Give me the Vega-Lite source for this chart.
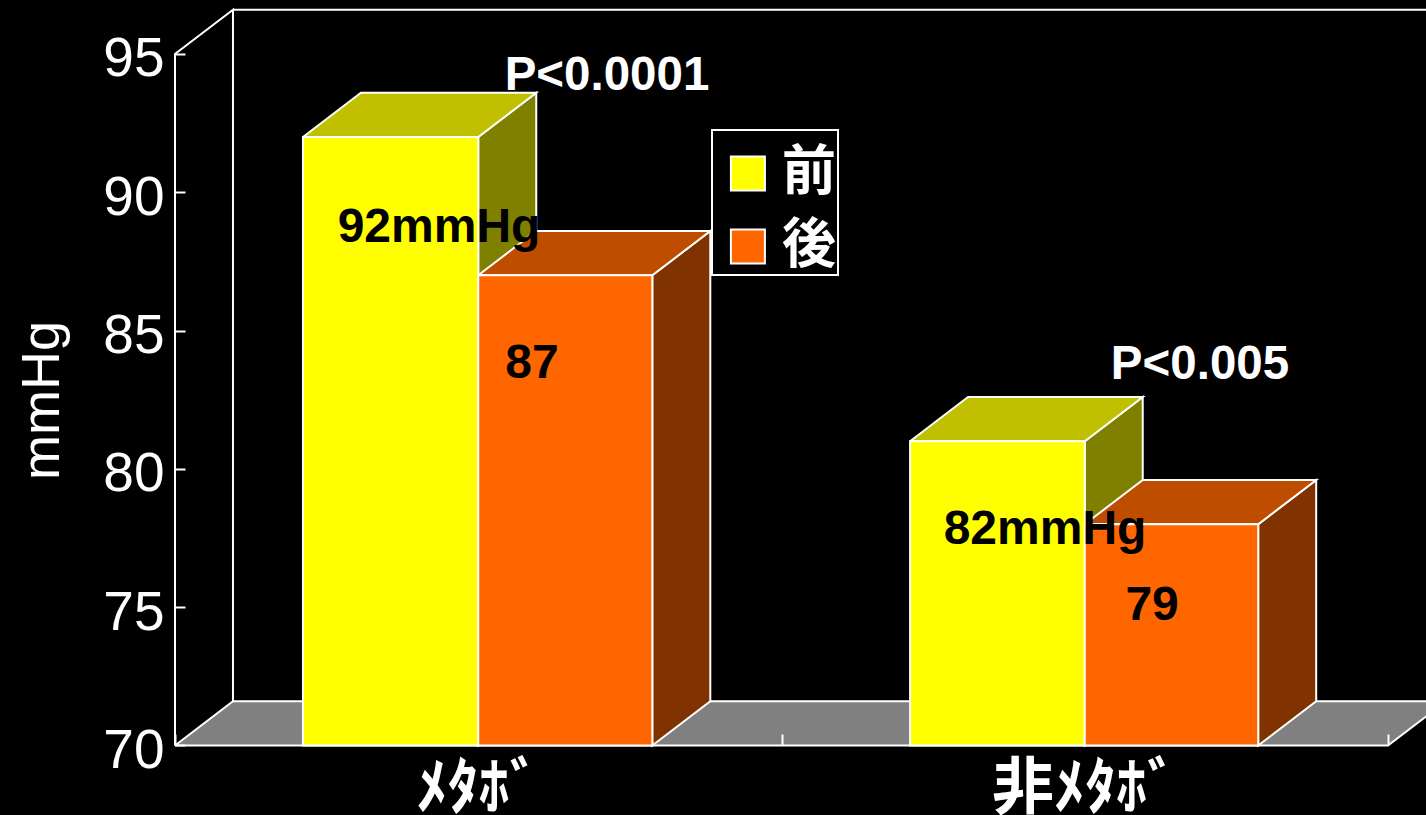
{"$schema":"https://vega.github.io/schema/vega-lite/v6.json","width":1426,"height":815,"autosize":"none","padding":0,"background":"#000000","config":{"view":{"stroke":null},"font":"Liberation Sans","legend":{"strokeWidth":2}},
"datasets":{"frame":[
{"part":"wall","step":1,"x":0,"y":70},{"part":"wall","step":2,"x":0,"y":95},{"part":"wall","step":3,"x":0.0956,"y":96.6},{"part":"wall","step":4,"x":0.0956,"y":71.6},
{"part":"top","step":1,"x":0.0956,"y":96.6},{"part":"top","step":2,"x":2.2,"y":96.6}],
"floor":[{"step":1,"x":0,"y":70},{"step":2,"x":0.0956,"y":71.6},{"step":3,"x":2.0956,"y":71.6},{"step":4,"x":2,"y":70},{"step":5,"x":0,"y":70}],
"barNotes":[{"text":"92mmHg","x":0.4353,"y":88.71},{"text":"87","x":0.5886,"y":83.8},{"text":"82mmHg","x":1.4345,"y":77.8},{"text":"79","x":1.611,"y":75.06}],
"pNotes":[{"text":"P<0.0001","x":0.7123,"y":94.21},{"text":"P<0.005","x":1.69,"y":83.76}]},
"data":{"values":[{"group":"ﾒﾀﾎﾞ","when":"前","value":92},{"group":"ﾒﾀﾎﾞ","when":"後","value":87},{"group":"非ﾒﾀﾎﾞ","when":"前","value":81},{"group":"非ﾒﾀﾎﾞ","when":"後","value":78}]},
"transform":[{"calculate":"datum.group==='ﾒﾀﾎﾞ'?0:1","as":"g"},{"calculate":"datum.g+(datum.when==='前'?(datum.g?0.212:0.211):0.5)","as":"x0"},{"calculate":"datum.g+(datum.when==='前'?0.5:(datum.g?0.786:0.787))","as":"x1"}],
"layer":[
{"data":{"name":"floor"},"mark":{"type":"line","fill":"#808080","stroke":"#ffffff","strokeWidth":2,"clip":true},
"encoding":{"order":{"field":"step"},
"x":{"field":"x","type":"quantitative","scale":{"domain":[-0.28854,2.06265],"nice":false,"zero":false},
"axis":{"title":null,"values":[0,1,2],"grid":false,"domain":false,"orient":"bottom","offset":-70,"tickColor":"#ffffff","tickWidth":2,"tickSize":-11,"labelColor":"#ffffff","labelFont":"Noto Sans CJK JP","labelFontWeight":"bold","labelFontSize":62,"labelPadding":25,"labelOffset":303,"labelLimit":500,"labelBound":false,"labelFlush":false,"labelOverlap":false,"labelExpr":"datum.value===0?'ﾒﾀﾎﾞ':(datum.value===1?'非ﾒﾀﾎﾞ':'')","zindex":1}},
"y":{"field":"y","type":"quantitative","scale":{"domain":[67.487,96.952],"nice":false,"zero":false},
"axis":{"title":"mmHg","values":[70,75,80,85,90,95],"grid":false,"domain":false,"orient":"left","offset":-175,"tickColor":"#ffffff","tickWidth":2,"tickSize":-10,"labelColor":"#ffffff","labelFont":"Liberation Sans","labelFontSize":55,"labelPadding":21,"labelOffset":5,"labelBound":false,"labelFlush":false,"labelOverlap":false,"titleColor":"#ffffff","titleFont":"Liberation Sans","titleFontWeight":"normal","titleFontSize":54,"titleAngle":270,"titleAlign":"center","titleBaseline":"middle","titleX":-133,"titleY":400,"zindex":1}}}},
{"data":{"name":"frame"},"mark":{"type":"line","stroke":"#ffffff","strokeWidth":2,"clip":true},"encoding":{"detail":{"field":"part"},"order":{"field":"step"},"x":{"field":"x","type":"quantitative"},"y":{"field":"y","type":"quantitative"}}},
{"transform":[{"filter":"datum.when==='前'"},{"fold":["a","b","c","d","e"],"as":["key","unused"]},{"calculate":"datum.key==='a'||datum.key==='d'||datum.key==='e'?datum.x1:datum.x1+0.0956","as":"px"},{"calculate":"datum.key==='a'||datum.key==='e'?datum.value:(datum.key==='b'?datum.value+1.6:(datum.key==='c'?71.6:70))","as":"py"}],
"mark":{"type":"line","fill":"#808000","stroke":"#ffffff","strokeWidth":2},"encoding":{"detail":{"field":"group"},"order":{"field":"key"},"x":{"field":"px","type":"quantitative"},"y":{"field":"py","type":"quantitative"}}},
{"transform":[{"filter":"datum.when==='前'"},{"fold":["a","b","c","d","e"],"as":["key","unused"]},{"calculate":"datum.key==='a'||datum.key==='e'?datum.x0:(datum.key==='b'?datum.x1:(datum.key==='c'?datum.x1+0.0956:datum.x0+0.0956))","as":"px"},{"calculate":"datum.key==='c'||datum.key==='d'?datum.value+1.6:datum.value","as":"py"}],
"mark":{"type":"line","fill":"#c0c000","stroke":"#ffffff","strokeWidth":2},"encoding":{"detail":{"field":"group"},"order":{"field":"key"},"x":{"field":"px","type":"quantitative"},"y":{"field":"py","type":"quantitative"}}},
{"transform":[{"filter":"datum.when==='後'"},{"fold":["a","b","c","d","e"],"as":["key","unused"]},{"calculate":"datum.key==='a'||datum.key==='d'||datum.key==='e'?datum.x1:datum.x1+0.0956","as":"px"},{"calculate":"datum.key==='a'||datum.key==='e'?datum.value:(datum.key==='b'?datum.value+1.6:(datum.key==='c'?71.6:70))","as":"py"}],
"mark":{"type":"line","fill":"#803300","stroke":"#ffffff","strokeWidth":2},"encoding":{"detail":{"field":"group"},"order":{"field":"key"},"x":{"field":"px","type":"quantitative"},"y":{"field":"py","type":"quantitative"}}},
{"transform":[{"filter":"datum.when==='後'"},{"fold":["a","b","c","d","e"],"as":["key","unused"]},{"calculate":"datum.key==='a'||datum.key==='e'?datum.x0:(datum.key==='b'?datum.x1:(datum.key==='c'?datum.x1+0.0956:datum.x0+0.0956))","as":"px"},{"calculate":"datum.key==='c'||datum.key==='d'?datum.value+1.6:datum.value","as":"py"}],
"mark":{"type":"line","fill":"#bf4d00","stroke":"#ffffff","strokeWidth":2},"encoding":{"detail":{"field":"group"},"order":{"field":"key"},"x":{"field":"px","type":"quantitative"},"y":{"field":"py","type":"quantitative"}}},
{"mark":{"type":"rect","stroke":"#ffffff","strokeWidth":2},"encoding":{"x":{"field":"x0","type":"quantitative"},"x2":{"field":"x1"},"y":{"field":"value","type":"quantitative"},"y2":{"datum":70},
"color":{"field":"when","type":"nominal","scale":{"domain":["前","後"],"range":["#ffff00","#ff6600"]},
"legend":{"title":" ","titleFontSize":14,"titlePadding":1,"orient":"none","legendX":712,"legendY":130,"padding":1.5,"fillColor":"#000000","strokeColor":"#ffffff","symbolType":"square","symbolSize":1156,"symbolStrokeColor":"#ffffff","symbolStrokeWidth":2,"symbolOffset":7.4,"labelColor":"#ffffff","labelFont":"Noto Sans CJK JP","labelFontWeight":"bold","labelFontSize":54,"labelOffset":7,"rowPadding":19,"labelLimit":100,"labelExpr":"datum.label+'\u00a0'"}}}},
{"data":{"name":"barNotes"},"mark":{"type":"text","font":"Liberation Sans","fontWeight":"bold","fontSize":48,"color":"#000000","align":"center","baseline":"middle"},"encoding":{"x":{"field":"x","type":"quantitative"},"y":{"field":"y","type":"quantitative"},"text":{"field":"text"}}},
{"data":{"name":"pNotes"},"mark":{"type":"text","font":"Liberation Sans","fontWeight":"bold","fontSize":47.5,"color":"#ffffff","align":"center","baseline":"middle"},"encoding":{"x":{"field":"x","type":"quantitative"},"y":{"field":"y","type":"quantitative"},"text":{"field":"text"}}}
]}
